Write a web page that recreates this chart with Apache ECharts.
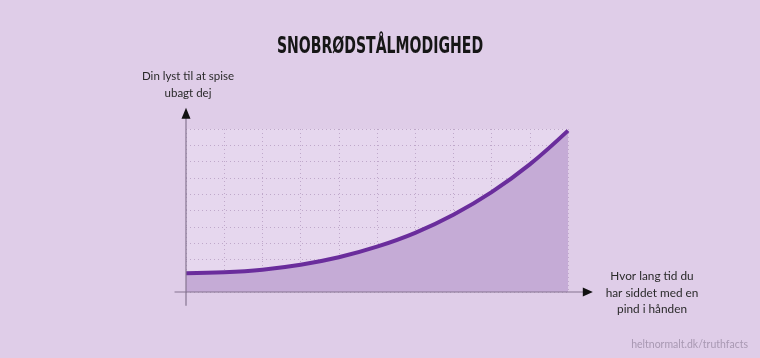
<!DOCTYPE html>
<html><head><meta charset="utf-8">
<script src="https://cdn.jsdelivr.net/npm/echarts@6/dist/echarts.min.js"></script>
<style>html,body{margin:0;padding:0;background:#dfcde8;}#c{width:760px;height:358px;}</style>
</head><body><div id="c"></div>
<script>
var xValues = [0, 1, 2, 3, 4, 5, 6, 7, 8, 9, 10];
var curveValues = [1.15, 1.21, 1.37, 1.67, 2.13, 2.78, 3.63, 4.74, 6.13, 7.83, 9.9];
var titleText = 'SNOBRØDSTÅLMODIGHED';
var yLabel = 'Din lyst til at spise\nubagt dej';
var xLabel = 'Hvor lang tid du\nhar siddet med en\npind i hånden';
var credit = 'heltnormalt.dk/truthfacts';

var chart = echarts.init(document.getElementById('c'), null, {renderer: 'canvas'});
var data = xValues.map(function (x, i) { return [x, curveValues[i]]; });
var axisColor = '#857590';
chart.setOption({
  backgroundColor: '#dfcde8',
  animation: false,
  grid: {left: 186, right: 192, top: 129, bottom: 66, show: true, backgroundColor: '#e6d7ee', borderWidth: 0},
  xAxis: {
    type: 'value', min: 0, max: 10, interval: 1,
    axisLine: {show: false}, axisTick: {show: false}, axisLabel: {show: false},
    splitLine: {show: true, lineStyle: {color: '#bfa8ca', type: [1, 3], width: 1}}
  },
  yAxis: {
    type: 'value', min: 0, max: 10, interval: 1,
    axisLine: {show: false}, axisTick: {show: false}, axisLabel: {show: false},
    splitLine: {show: true, lineStyle: {color: '#bfa8ca', type: [1, 3], width: 1}}
  },
  series: [{
    type: 'line', data: data, smooth: 0.4, symbol: 'none',
    lineStyle: {color: '#6a2d9c', width: 4},
    areaStyle: {color: '#c5abd6', opacity: 1},
    z: 3
  }]
});

function px(p) { return chart.convertToPixel({gridIndex: 0}, p); }
var xs = px([-0.3, 0]), xe = px([10.65, 0]);
var ys = px([0, -0.85]), ye = px([0, 11.3]);
chart.setOption({
  graphic: [
    {type: 'text', x: 380, y: 36, scaleX: 0.68, originX: 0,
      style: {text: titleText, fill: '#161616', font: 'bold 23px "DejaVu Sans Condensed", "DejaVu Sans", sans-serif', textAlign: 'center'}, z: 10},
    {type: 'line', shape: {x1: xs[0], y1: xs[1], x2: xe[0] - 6, y2: xe[1]}, style: {stroke: axisColor, lineWidth: 1.2}, z: 10},
    {type: 'polygon', shape: {points: [[xe[0], xe[1]], [xe[0] - 10, xe[1] - 4.5], [xe[0] - 10, xe[1] + 4.5]]}, style: {fill: '#111'}, z: 10},
    {type: 'line', shape: {x1: ys[0], y1: ys[1], x2: ye[0], y2: ye[1] + 6}, style: {stroke: axisColor, lineWidth: 1.2}, z: 10},
    {type: 'polygon', shape: {points: [[ye[0], ye[1]], [ye[0] - 4.5, ye[1] + 11], [ye[0] + 4.5, ye[1] + 11]]}, style: {fill: '#111'}, z: 10},
    {type: 'text', x: 188, y: 68, style: {text: yLabel, fill: '#2a2a2a', font: '11.5px Lato, sans-serif', textAlign: 'center', lineHeight: 17}, z: 10},
    {type: 'text', x: 652, y: 268, style: {text: xLabel, fill: '#2a2a2a', font: '11.8px Lato, sans-serif', textAlign: 'center', lineHeight: 16.5}, z: 10},
    {type: 'text', x: 748, y: 339, style: {text: credit, fill: '#a898b2', font: '10.5px Lato, sans-serif', textAlign: 'right'}, z: 10}
  ]
});
</script></body></html>
